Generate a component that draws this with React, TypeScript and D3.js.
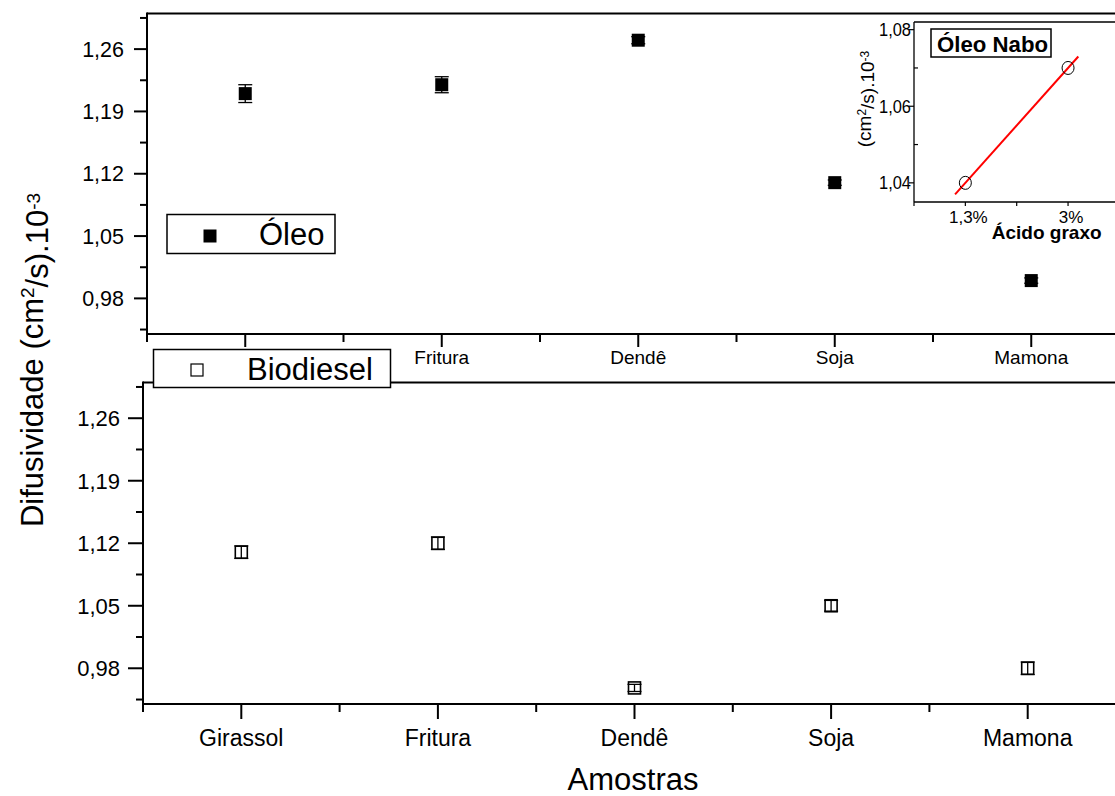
import React from "react";
import * as d3 from "d3";

// ---- data ----
const categories = ["Girassol", "Fritura", "Dendê", "Soja", "Mamona"];
const oleoValues = [1.21, 1.22, 1.27, 1.11, 1.0];
const oleoErrors = [0.01, 0.009, 0.004, 0.003, 0.003];
const biodieselValues = [1.11, 1.12, 0.958, 1.05, 0.98];
const biodieselErrors = [0.007, 0.007, 0.004, 0.006, 0.007];
const yMajorTicks = [0.98, 1.05, 1.12, 1.19, 1.26];
const yMinorTicks = [0.945, 1.015, 1.085, 1.155, 1.225, 1.295];
const xMinorTicks = [0.5, 1.5, 2.5, 3.5, 4.5, 5.5];

const insetCategories = ["1,3%", "3%"];
const insetValues = [1.04, 1.07];
const insetMajorTicks = [1.04, 1.06, 1.08];
const insetMinorTicks = [1.05, 1.07];
const insetXMinorTicks = [0.5, 1.5, 2.5];
const insetFitX = [0.9, 2.1];
const insetFitY = [1.037, 1.073];

const FONT = "'Liberation Sans', Arial, Helvetica, sans-serif";
const locale = d3.formatLocale({ decimal: ",", thousands: ".", grouping: [3], currency: ["", ""] });
const fmt2 = locale.format(".2f");

type PanelProps = {
  x0: number;
  xStep: number;
  yTop: number;
  yBottom: number;
  values: number[];
  errors: number[];
  filled: boolean;
  yLabelEnd: number;
  yLabelSize: number;
  xLabelBaseline: number;
  xLabelSize: number;
  majorLen: number;
  hiddenLabels: number[];
};

function Panel(p: PanelProps) {
  const x = d3.scaleLinear().domain([0.5, 5.5]).range([p.x0, p.x0 + 5 * p.xStep]);
  const y = d3.scaleLinear().domain([0.94, 1.3]).range([p.yBottom, p.yTop]);
  const W = 1115;
  const ms = p.filled ? 13 : 12;
  return (
    <g>
      {/* frame */}
      <line x1={p.x0} x2={W} y1={p.yTop} y2={p.yTop} stroke="#000" strokeWidth={2} />
      <line x1={p.x0} x2={W} y1={p.yBottom} y2={p.yBottom} stroke="#000" strokeWidth={2.2} />
      <line x1={p.x0} x2={p.x0} y1={p.yTop - 1} y2={p.yBottom} stroke="#000" strokeWidth={2} />
      {/* y ticks */}
      {yMajorTicks.map((t) => (
        <g key={"ym" + t}>
          <line x1={p.x0 - p.majorLen} x2={p.x0} y1={y(t)} y2={y(t)} stroke="#000" strokeWidth={2} />
          <text x={p.yLabelEnd} y={y(t)} dy="0.36em" textAnchor="end" fontSize={p.yLabelSize} fontFamily={FONT}>
            {fmt2(t)}
          </text>
        </g>
      ))}
      {yMinorTicks.map((t) => (
        <line key={"yn" + t} x1={p.x0 - 7} x2={p.x0} y1={y(t)} y2={y(t)} stroke="#000" strokeWidth={2} />
      ))}
      {/* x ticks */}
      {categories.map((c, i) => (
        <g key={"xm" + c}>
          <line x1={x(i + 1)} x2={x(i + 1)} y1={p.yBottom} y2={p.yBottom + p.majorLen} stroke="#000" strokeWidth={2} />
          {p.hiddenLabels.indexOf(i) < 0 ? (
            <text x={x(i + 1)} y={p.xLabelBaseline} textAnchor="middle" fontSize={p.xLabelSize} fontFamily={FONT}>
              {c}
            </text>
          ) : null}
        </g>
      ))}
      {xMinorTicks.map((t) => (
        <line key={"xn" + t} x1={x(t)} x2={x(t)} y1={p.yBottom} y2={p.yBottom + 8} stroke="#000" strokeWidth={2} />
      ))}
      {/* data */}
      {p.values.map((v, i) => {
        const cx = x(i + 1);
        const cy = y(v);
        const e1 = y(v + p.errors[i]);
        const e2 = y(v - p.errors[i]);
        return (
          <g key={"d" + i}>
            {p.filled ? (
              <rect x={cx - ms / 2} y={cy - ms / 2} width={ms} height={ms} fill="#000" />
            ) : null}
            <line x1={cx} x2={cx} y1={e1} y2={e2} stroke="#000" strokeWidth={1.3} />
            <line x1={cx - 7} x2={cx + 7} y1={e1} y2={e1} stroke="#000" strokeWidth={1.3} />
            <line x1={cx - 7} x2={cx + 7} y1={e2} y2={e2} stroke="#000" strokeWidth={1.3} />
            {!p.filled ? (
              <rect x={cx - ms / 2} y={cy - ms / 2} width={ms} height={ms} fill="none" stroke="#000" strokeWidth={1.6} />
            ) : null}
          </g>
        );
      })}
    </g>
  );
}

function Inset() {
  const x = d3.scaleLinear().domain([0.5, 2.5]).range([914, 914 + 205.4]);
  const y = d3.scaleLinear().domain([1.035, 1.082]).range([202, 22]);
  const fit = d3
    .line<number>()
    .x((_, i) => x(insetFitX[i]))
    .y((d) => y(d));
  return (
    <g>
      <line x1={914} x2={1115} y1={22} y2={22} stroke="#000" strokeWidth={1.3} />
      <line x1={914} x2={1115} y1={202} y2={202} stroke="#000" strokeWidth={1.3} />
      <line x1={914} x2={914} y1={22} y2={202} stroke="#000" strokeWidth={1.3} />
      {insetMajorTicks.map((t) => (
        <g key={"im" + t}>
          <line x1={909} x2={914} y1={y(t)} y2={y(t)} stroke="#000" strokeWidth={1.2} />
          <text x={911} y={y(t)} dy="0.36em" textAnchor="end" fontSize={18} fontFamily={FONT} textLength={32} lengthAdjust="spacingAndGlyphs">
            {fmt2(t)}
          </text>
        </g>
      ))}
      {insetMinorTicks.map((t) => (
        <line key={"in" + t} x1={914} x2={918} y1={y(t)} y2={y(t)} stroke="#000" strokeWidth={1.2} />
      ))}
      {insetCategories.map((c, i) => (
        <g key={"ix" + c}>
          <line x1={x(i + 1)} x2={x(i + 1)} y1={202} y2={206} stroke="#000" strokeWidth={1.2} />
          <text x={x(i + 1) + 3} y={223} textAnchor="middle" fontSize={17} fontFamily={FONT}>
            {c}
          </text>
        </g>
      ))}
      {insetXMinorTicks.map((t) => (
        <line key={"ixn" + t} x1={x(t)} x2={x(t)} y1={202} y2={206} stroke="#000" strokeWidth={1.2} />
      ))}
      <path d={fit(insetFitY) || ""} stroke="#ff0000" strokeWidth={2} fill="none" />
      {insetValues.map((v, i) => (
        <ellipse key={"ic" + i} cx={x(i + 1)} cy={y(v)} rx={6} ry={6.5} fill="none" stroke="#000" strokeWidth={1} />
      ))}
      <rect x={931} y={29} width={120} height={28} fill="#fff" stroke="#000" strokeWidth={1.5} />
      <text x={937} y={52} fontSize={22} fontWeight="bold" fontFamily={FONT} textLength={111} lengthAdjust="spacingAndGlyphs">
        Óleo Nabo
      </text>
      <text x={1046.7} y={239} textAnchor="middle" fontSize={19} fontWeight="bold" fontFamily={FONT}>
        Ácido graxo
      </text>
      <text transform="translate(871,99) rotate(-90)" textAnchor="middle" fontSize={19} fontFamily={FONT}>
        (cm
        <tspan dy="-0.45em" fontSize={12}>2</tspan>
        <tspan dy="0.45em">/s).10</tspan>
        <tspan dy="-0.45em" fontSize={12}>-3</tspan>
      </text>
    </g>
  );
}

export default function App() {
  return (
    <svg
      width={1115}
      height={796}
      style={{ position: "absolute", left: 0, top: 0, background: "#fff" }}
      fontFamily={FONT}
    >
      <rect x={0} y={0} width={1115} height={796} fill="#fff" />
      <Panel
        x0={147}
        xStep={196.5}
        yTop={13.5}
        yBottom={334}
        values={oleoValues}
        errors={oleoErrors}
        filled={true}
        yLabelEnd={124}
        yLabelSize={21.5}
        xLabelBaseline={364}
        xLabelSize={19}
        majorLen={13}
        hiddenLabels={[0]}
      />
      <Panel
        x0={143}
        xStep={196.6}
        yTop={382.5}
        yBottom={704}
        values={biodieselValues}
        errors={biodieselErrors}
        filled={false}
        yLabelEnd={120}
        yLabelSize={22}
        xLabelBaseline={746}
        xLabelSize={23}
        majorLen={15}
        hiddenLabels={[]}
      />
      <Inset />
      {/* legends */}
      <rect x={167} y={214.5} width={168} height={39} fill="#fff" stroke="#000" strokeWidth={1.5} />
      <rect x={203.5} y={229.5} width={13} height={13} fill="#000" />
      <text x={259} y={245} fontSize={31} fontFamily={FONT}>
        Óleo
      </text>
      <rect x={153.5} y={349.5} width={237} height={38} fill="#fff" stroke="#000" strokeWidth={1.5} />
      <rect x={191} y={364} width={12} height={12} fill="none" stroke="#000" strokeWidth={1.2} />
      <text x={247} y={380} fontSize={31} fontFamily={FONT}>
        Biodiesel
      </text>
      {/* axis titles */}
      <text x={633} y={790} textAnchor="middle" fontSize={31} fontFamily={FONT}>
        Amostras
      </text>
      <text transform="translate(43,360) rotate(-90)" textAnchor="middle" fontSize={31} fontFamily={FONT}>
        Difusividade (cm
        <tspan dy="-0.45em" fontSize={19}>2</tspan>
        <tspan dy="0.45em">/s).10</tspan>
        <tspan dy="-0.45em" fontSize={19}>-3</tspan>
      </text>
    </svg>
  );
}
